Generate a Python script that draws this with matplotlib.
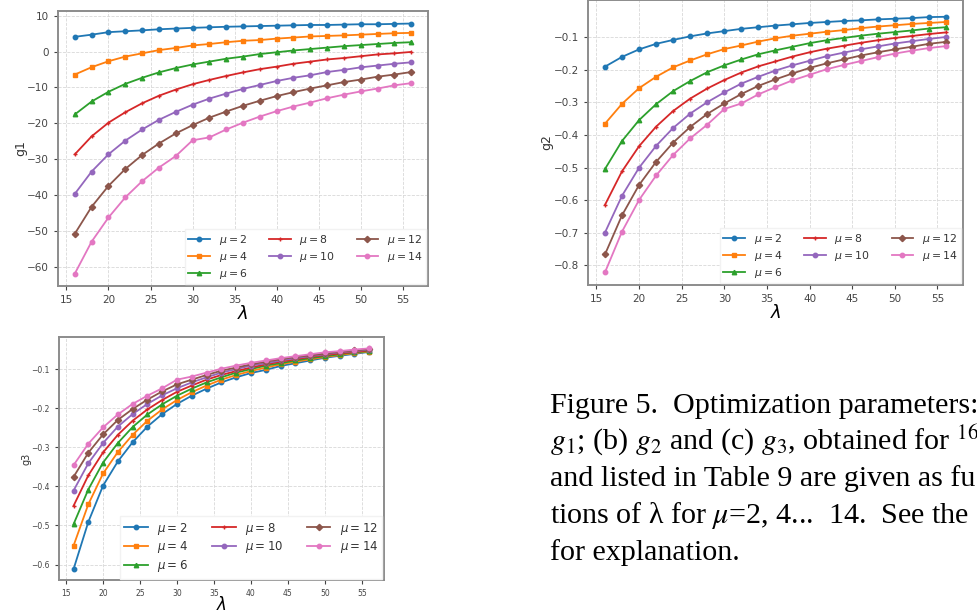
import matplotlib
matplotlib.use('Agg')
import matplotlib.pyplot as plt
import numpy as np

plt.rcParams['mathtext.fontset'] = 'dejavusans'

# lambda values (x axis) and mu values (one curve each)
lam = np.arange(16, 57, 2)
mus = [2, 4, 6, 8, 10, 12, 14]

# g1 values
g1_mu2 = [4.1, 4.7, 5.4, 5.65, 5.9, 6.2, 6.4, 6.6, 6.75, 6.9, 7.0, 7.1, 7.2, 7.3, 7.4, 7.4, 7.5, 7.6, 7.6, 7.7, 7.8]
g1_mu4 = [-6.4, -4.35, -2.7, -1.4, -0.5, 0.4, 1.0, 1.7, 2.1, 2.6, 3.0, 3.2, 3.6, 3.9, 4.2, 4.35, 4.5, 4.7, 4.9, 5.1, 5.2]
g1_mu6 = [-17.5, -13.9, -11.2, -9.0, -7.3, -5.8, -4.6, -3.6, -2.8, -2.0, -1.4, -0.7, -0.2, 0.3, 0.7, 1.1, 1.5, 1.8, 2.1, 2.4, 2.6]
g1_mu8 = [-28.6, -23.6, -19.8, -16.9, -14.4, -12.3, -10.6, -9.1, -7.9, -6.8, -5.8, -4.9, -4.2, -3.4, -2.8, -2.2, -1.8, -1.3, -0.8, -0.5, -0.1]
g1_mu10 = [-39.6, -33.4, -28.6, -24.8, -21.7, -19.0, -16.8, -14.8, -13.1, -11.7, -10.4, -9.3, -8.2, -7.3, -6.6, -5.7, -5.1, -4.4, -3.9, -3.4, -3.0]
g1_mu12 = [-50.7, -43.2, -37.4, -32.7, -28.8, -25.6, -22.8, -20.5, -18.4, -16.7, -15.1, -13.7, -12.4, -11.3, -10.3, -9.4, -8.5, -7.8, -7.0, -6.4, -5.7]
g1_mu14 = [-61.8, -52.9, -46.2, -40.6, -36.1, -32.3, -29.1, -24.7, -23.9, -21.7, -19.8, -18.1, -16.6, -15.3, -14.2, -13.0, -12.0, -11.1, -10.3, -9.4, -8.8]

# g2 values
g2_mu2 = [-0.190, -0.160, -0.137, -0.120, -0.108, -0.097, -0.088, -0.081, -0.074, -0.069, -0.064, -0.060, -0.056, -0.053, -0.050, -0.048, -0.045, -0.043, -0.041, -0.038, -0.037]
g2_mu4 = [-0.365, -0.304, -0.256, -0.221, -0.192, -0.171, -0.152, -0.136, -0.125, -0.113, -0.103, -0.095, -0.089, -0.083, -0.078, -0.072, -0.067, -0.063, -0.059, -0.056, -0.053]
g2_mu6 = [-0.504, -0.418, -0.354, -0.305, -0.265, -0.234, -0.207, -0.186, -0.168, -0.152, -0.140, -0.129, -0.118, -0.109, -0.102, -0.095, -0.089, -0.084, -0.079, -0.073, -0.069]
g2_mu8 = [-0.614, -0.511, -0.434, -0.374, -0.326, -0.288, -0.257, -0.231, -0.208, -0.189, -0.174, -0.159, -0.146, -0.135, -0.126, -0.117, -0.109, -0.102, -0.096, -0.090, -0.085]
g2_mu10 = [-0.699, -0.586, -0.500, -0.433, -0.378, -0.334, -0.299, -0.269, -0.242, -0.221, -0.202, -0.186, -0.172, -0.158, -0.147, -0.137, -0.128, -0.119, -0.112, -0.105, -0.099]
g2_mu12 = [-0.766, -0.646, -0.553, -0.482, -0.423, -0.375, -0.335, -0.303, -0.274, -0.249, -0.229, -0.211, -0.194, -0.180, -0.168, -0.156, -0.146, -0.137, -0.129, -0.120, -0.114]
g2_mu14 = [-0.821, -0.696, -0.599, -0.524, -0.461, -0.410, -0.368, -0.320, -0.303, -0.275, -0.253, -0.232, -0.215, -0.198, -0.185, -0.173, -0.161, -0.150, -0.141, -0.133, -0.127]

# g3 values
g3_mu2 = [-0.612, -0.491, -0.398, -0.336, -0.287, -0.247, -0.215, -0.189, -0.168, -0.150, -0.134, -0.121, -0.110, -0.102, -0.092, -0.085, -0.078, -0.071, -0.066, -0.061, -0.056]
g3_mu4 = [-0.552, -0.446, -0.367, -0.312, -0.268, -0.232, -0.203, -0.179, -0.159, -0.142, -0.127, -0.115, -0.105, -0.096, -0.088, -0.081, -0.075, -0.069, -0.064, -0.059, -0.055]
g3_mu6 = [-0.497, -0.408, -0.339, -0.289, -0.248, -0.216, -0.190, -0.168, -0.150, -0.134, -0.121, -0.109, -0.100, -0.091, -0.085, -0.078, -0.072, -0.067, -0.062, -0.057, -0.054]
g3_mu8 = [-0.450, -0.372, -0.313, -0.268, -0.232, -0.203, -0.179, -0.158, -0.142, -0.127, -0.115, -0.105, -0.096, -0.088, -0.081, -0.075, -0.069, -0.064, -0.060, -0.056, -0.052]
g3_mu10 = [-0.411, -0.341, -0.289, -0.247, -0.215, -0.189, -0.167, -0.149, -0.134, -0.121, -0.109, -0.100, -0.091, -0.085, -0.078, -0.072, -0.067, -0.062, -0.057, -0.054, -0.050]
g3_mu12 = [-0.376, -0.314, -0.267, -0.230, -0.202, -0.178, -0.157, -0.139, -0.127, -0.115, -0.104, -0.096, -0.088, -0.081, -0.075, -0.069, -0.065, -0.060, -0.056, -0.052, -0.049]
g3_mu14 = [-0.346, -0.291, -0.249, -0.216, -0.189, -0.168, -0.149, -0.127, -0.119, -0.109, -0.099, -0.091, -0.084, -0.078, -0.072, -0.067, -0.062, -0.057, -0.054, -0.050, -0.047]

g1 = [g1_mu2, g1_mu4, g1_mu6, g1_mu8, g1_mu10, g1_mu12, g1_mu14]
g2 = [g2_mu2, g2_mu4, g2_mu6, g2_mu8, g2_mu10, g2_mu12, g2_mu14]
g3 = [g3_mu2, g3_mu4, g3_mu6, g3_mu8, g3_mu10, g3_mu12, g3_mu14]

markers = ['o', 's', '^', '+', 'o', 'D', 'o']

# caption as far as it is visible in the page crop
caption_lines = [
    "Figure 5.  Optimization parameters:",
    "$g_1$; (b) $g_2$ and (c) $g_3$, obtained for $^{16}$",
    "and listed in Table 9 are given as fu",
    "tions of λ for $\\mu$=2, 4...  14.  See the",
    "for explanation.",
]


def draw_panel(ax, curves, ylabel, tick_fs, label_fs, leg_fs, lam_fs):
    for mu, vals, m in zip(mus, curves, markers):
        ax.plot(lam, vals, marker=m, markersize=3.2, linewidth=1.3,
                label=f'$\\mu = {mu}$')
    ax.grid(True, linestyle='--', linewidth=0.6, color='#d8d8d8')
    ax.set_xticks(np.arange(15, 56, 5))
    ax.tick_params(labelsize=tick_fs, colors='#444444', length=3, width=0.8)
    for sp in ax.spines.values():
        sp.set_color('#8c8c8c')
        sp.set_linewidth(1.4)
    ax.set_ylabel(ylabel, fontsize=label_fs, color='#333333', labelpad=0)
    ax.set_xlabel('$\\lambda$', fontsize=lam_fs, labelpad=0)
    leg = ax.legend(ncol=3, loc='lower right', fontsize=leg_fs, frameon=True,
                    edgecolor='#f2f2f2', fancybox=False, framealpha=1,
                    handlelength=2.0, columnspacing=2.0, borderpad=0.35,
                    labelspacing=0.25, borderaxespad=0.15)
    for t in leg.get_texts():
        t.set_color('#333333')


fig = plt.figure(figsize=(9.77, 6.13), dpi=100)

ax1 = fig.add_axes([0.0594, 0.5334, 0.3787, 0.4486])
draw_panel(ax1, g1, 'g1', 7.5, 9, 7.8, 13)

ax2 = fig.add_axes([0.6018, 0.5351, 0.3838, 0.4649])
draw_panel(ax2, g2, 'g2', 7.5, 9, 7.8, 13)
ax2.set_yticks(np.arange(-0.8, -0.05, 0.1))
ax2.set_ylim(-0.860, 0.0145)

ax3 = fig.add_axes([0.0601, 0.0533, 0.3330, 0.3964])
draw_panel(ax3, g3, 'g3', 5.5, 7, 8.5, 12)
ax3.xaxis.labelpad = -2

for i, line in enumerate(caption_lines):
    fig.text(550 / 977, 1 - (413 + 36.7 * i) / 613, line, fontsize=21.6,
             family='Liberation Serif', math_fontfamily='stix',
             va='baseline', ha='left')

fig.savefig('out.png', dpi=100)
